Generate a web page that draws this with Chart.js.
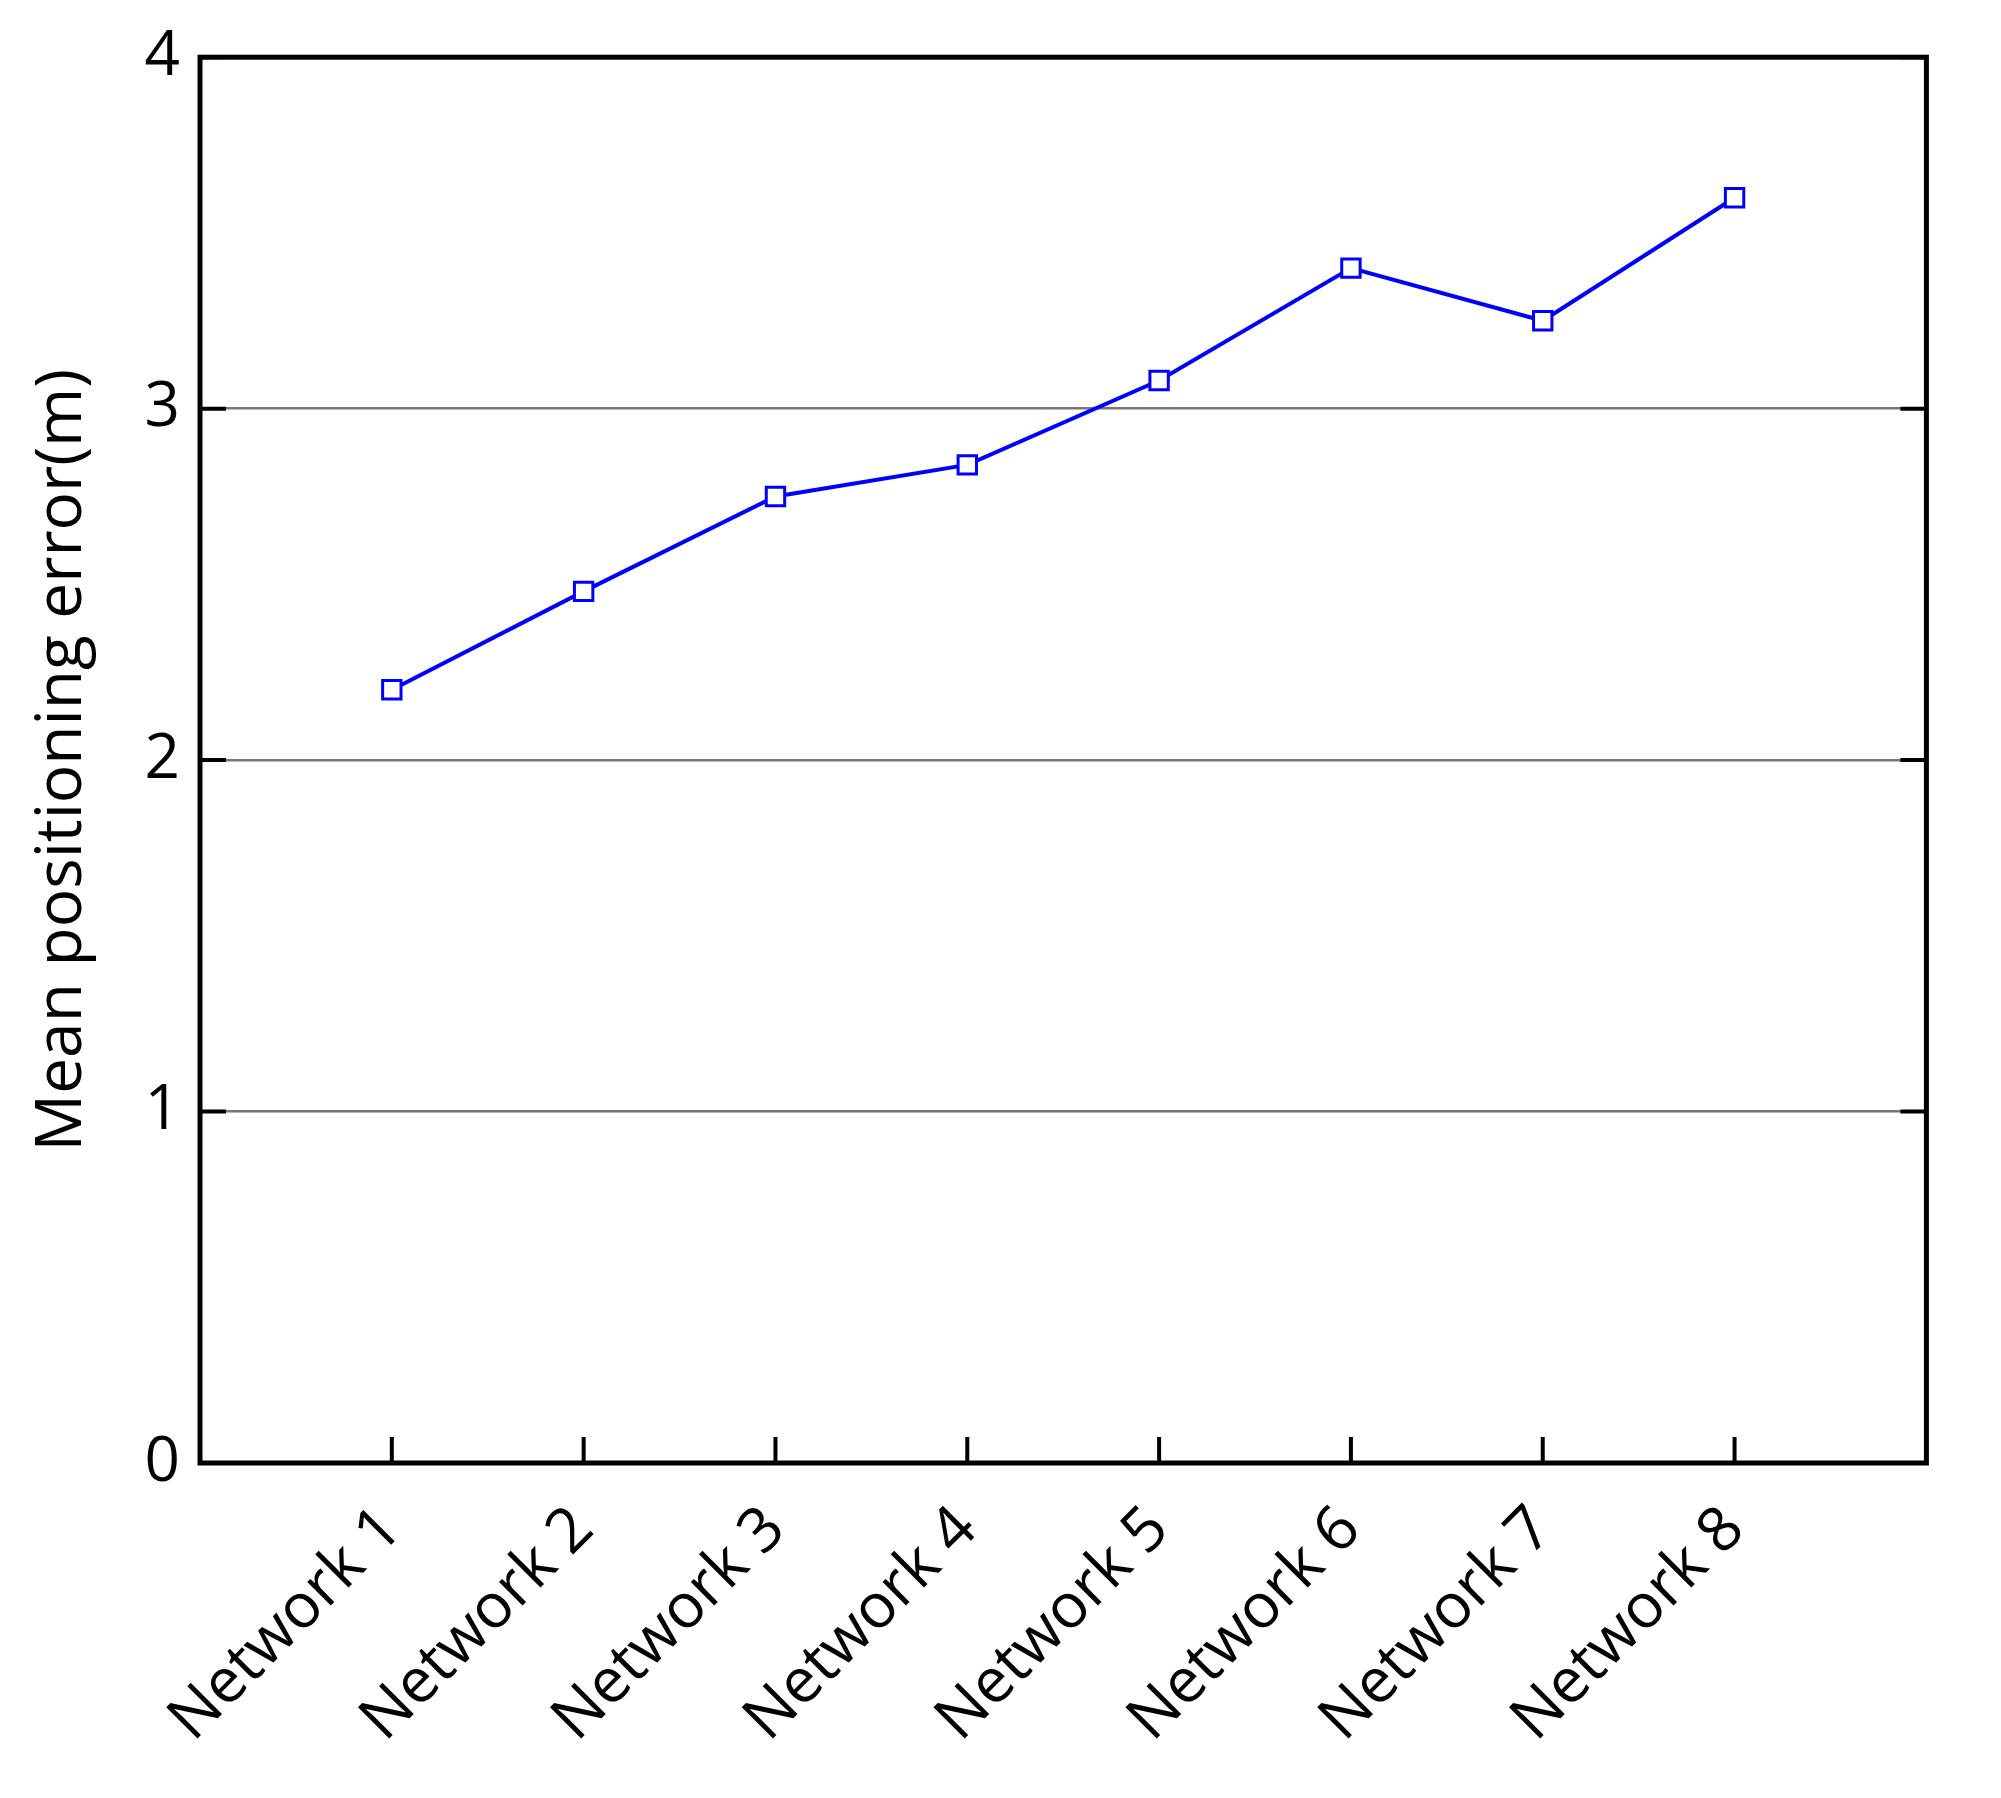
<!DOCTYPE html>
<html><head><meta charset="utf-8">
<script src="https://cdn.jsdelivr.net/npm/chart.js@4"></script>
<style>html,body{margin:0;padding:0;background:#fff}#w{width:2001px;height:1798px}</style>
</head><body><div id="w"><canvas id="c"></canvas></div>
<script>
const categories = ['', 'Network 1','Network 2','Network 3','Network 4','Network 5','Network 6','Network 7','Network 8', ''];
const errorValues = [null, 2.20, 2.48, 2.75, 2.84, 3.08, 3.40, 3.25, 3.60, null];
const yTicks = [0,1,2,3,4];
const FONT = "'Open Sans', 'DejaVu Sans', sans-serif";

const frame = {
  id:'frame',
  afterDraw(ch){
    const {ctx, chartArea:a, scales:{x,y}} = ch;
    ctx.save();
    ctx.strokeStyle='#000'; ctx.lineWidth=5;
    ctx.strokeRect(a.left,a.top,a.right-a.left,a.bottom-a.top);
    ctx.lineWidth=4;
    ctx.beginPath();
    yTicks.forEach(v=>{const p=y.getPixelForValue(v);
      ctx.moveTo(a.left,p);ctx.lineTo(a.left+26,p);
      ctx.moveTo(a.right,p);ctx.lineTo(a.right-26,p);});
    for(let i=1;i<=8;i++){const p=x.getPixelForValue(i);
      ctx.moveTo(p,a.bottom);ctx.lineTo(p,a.bottom-26);}
    ctx.stroke();
    ctx.restore();
  }
};

new Chart(document.getElementById('c'),{
  type:'line',
  data:{labels:categories,datasets:[{data:errorValues,borderColor:'#0000ff',borderWidth:4,
    pointStyle:'rect',pointRadius:13,pointBackgroundColor:'#fff',pointBorderColor:'#0000ff',pointBorderWidth:3}]},
  options:{responsive:true,maintainAspectRatio:false,animation:false,
    layout:{padding:{top:56,right:34,left:20,bottom:0}},
    plugins:{legend:{display:false},tooltip:{enabled:false}},
    scales:{
      x:{offset:false,grid:{display:false},border:{display:false},
        ticks:{autoSkip:false,maxRotation:45,minRotation:45,color:'#000',font:{family:FONT,size:62},padding:22},
        afterFit(s){s.height=335;}},
      y:{min:0,max:4,border:{display:false},
        grid:{color:'#777',lineWidth:2.5,drawTicks:false},
        ticks:{stepSize:1,color:'#000',font:{family:FONT,size:62},padding:20},
        title:{display:true,text:'Mean positioning error(m)',color:'#000',font:{family:FONT,size:64},padding:{bottom:4}},
        afterFit(s){s.width=180;}}
    }},
  plugins:[frame]
});
</script></body></html>
